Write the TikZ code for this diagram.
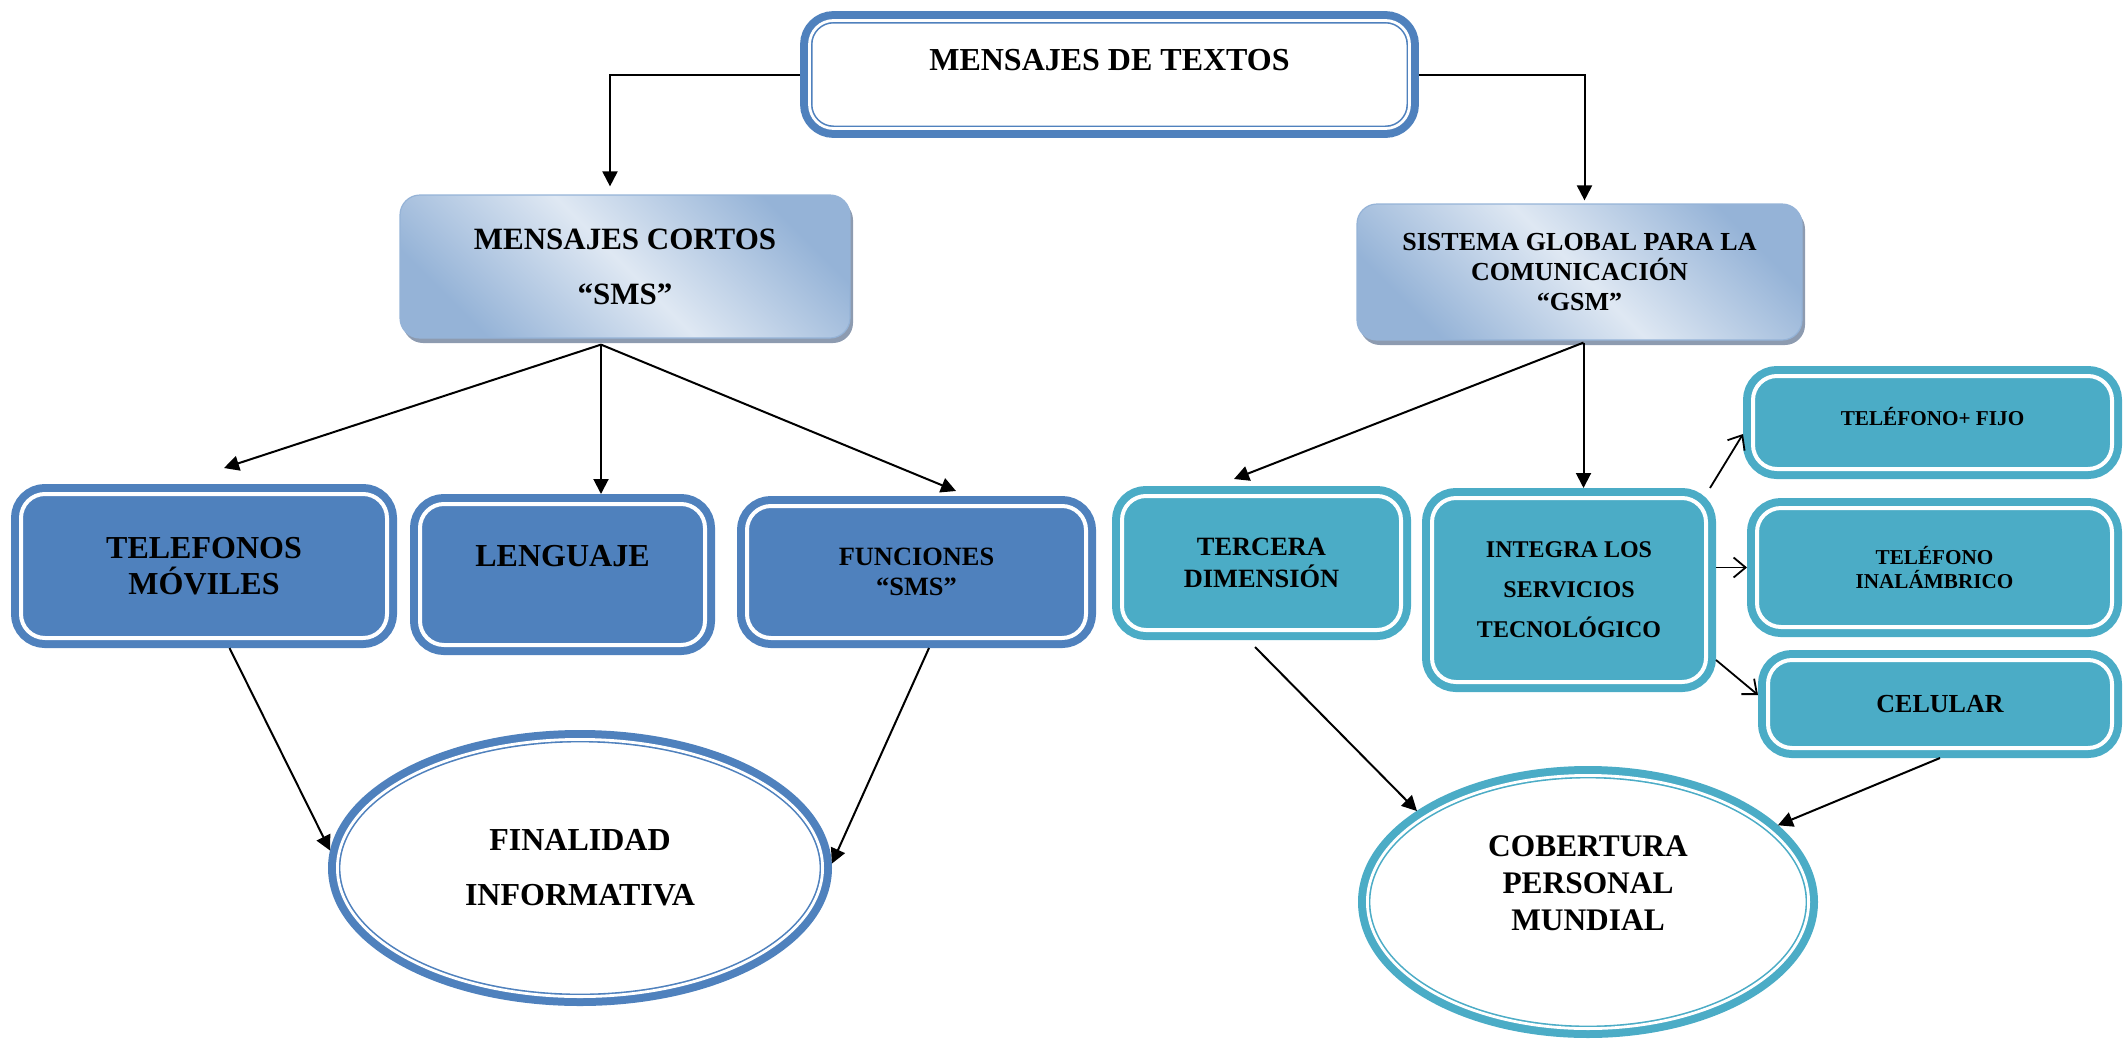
\documentclass[tikz,border=0pt]{standalone}
\usepackage{fontspec}
\setmainfont{Liberation Serif}
\usetikzlibrary{arrows.meta, positioning, shapes.geometric, calc, shadows}
\definecolor{cblue}{HTML}{4F81BD}
\definecolor{cteal}{HTML}{4BACC6}
\definecolor{clight}{HTML}{DFE8F3}
\definecolor{cdark}{HTML}{95B3D7}
\definecolor{cshadow}{HTML}{8D9BB0}
\newcommand{\boxfont}[2]{\fontsize{#1}{#2}\selectfont\bfseries}
\tikzset{
  framed/.style={draw=#1, fill=#1, double=white, double distance=2pt, line width=4pt,
    rounded corners=12pt, outer sep=5pt, inner sep=0pt, align=center},
  ringed/.style={preaction={draw=#1, line width=9.4pt}, draw=#1, double=white,
    double distance=1.4pt, line width=0.8pt, fill=white, outer sep=4.7pt, inner sep=0pt, align=center},
  shaded/.style={draw=cdark, line width=0.6pt, rounded corners=10pt,
    top color=cdark, bottom color=cdark, middle color=clight, shading angle=-45,
    drop shadow={shadow xshift=1.5pt, shadow yshift=-2.5pt, fill=cshadow, opacity=1},
    inner sep=0pt, align=center},
  arrow/.style={-{Triangle[length=7.5pt, width=7.5pt]}, line width=1pt},
  barb/.style={-{Straight Barb[length=6pt, width=10pt]}, line width=0.9pt},
}

\begin{document}
\begin{tikzpicture}[x=0.5pt, y=-0.5pt]
  \useasboundingbox (0,0) rectangle (2127,1039);
  % title
  \node[ringed=cblue, rounded corners=12pt, minimum width=300pt, minimum height=54pt,
    font=\boxfont{16}{19}, text height=11pt, text depth=15pt] (textos) at (1109.5,74.5) {MENSAJES DE TEXTOS};
  % second level
  \node[shaded, minimum width=225pt, minimum height=71.5pt, font=\boxfont{15.5}{18}] (cortos) at (625,266.5)
    {MENSAJES CORTOS\\[9.5pt]“SMS”};
  \node[shaded, minimum width=222.5pt, minimum height=68pt, font=\boxfont{13}{15}] (gsm) at (1579.5,272)
    {SISTEMA GLOBAL PARA LA\\COMUNICACIÓN\\“GSM”};
  % left branch
  \node[framed=cblue, minimum width=183pt, minimum height=72pt, font=\boxfont{16}{18}] (tel) at (204,566)
    {TELEFONOS\\MÓVILES};
  \node[framed=cblue, minimum width=142.5pt, minimum height=70.5pt, font=\boxfont{16}{19},
    text height=11pt, text depth=18.9pt] (leng) at (562.5,574.5) {LENGUAJE};
  \node[framed=cblue, minimum width=169.5pt, minimum height=66pt, font=\boxfont{13.2}{15}] (fun) at (916.5,572)
    {FUNCIONES\\“SMS”};
  \node[ringed=cblue, ellipse, minimum width=242.6pt, minimum height=128.6pt, font=\boxfont{16}{18}] (fin) at (580,868)
    {FINALIDAD\\[9.5pt]INFORMATIVA};
  % right branch
  \node[framed=cteal, minimum width=139.5pt, minimum height=67pt, font=\boxfont{13.2}{16}] (ter) at (1261.5,563)
    {TERCERA\\DIMENSIÓN};
  \node[framed=cteal, minimum width=137pt, minimum height=92pt, font=\boxfont{12}{20}] (integ) at (1569,590)
    {INTEGRA LOS\\SERVICIOS\\TECNOLÓGICO};
  \node[framed=cteal, minimum width=179.5pt, minimum height=46.5pt, font=\boxfont{10.6}{12},
    text height=8pt, text depth=5.5pt] (fijo) at (1932.5,422.5) {TELÉFONO+ FIJO};
  \node[framed=cteal, minimum width=177.5pt, minimum height=59.5pt, font=\boxfont{10.6}{11.7}] (inal) at (1934.5,567.5)
    {TELÉFONO\\INALÁMBRICO};
  \node[framed=cteal, minimum width=172pt, minimum height=44pt, font=\boxfont{13}{15}] (cel) at (1940,704)
    {CELULAR};
  \node[ringed=cteal, ellipse, minimum width=220.6pt, minimum height=126.6pt, font=\boxfont{15.7}{18.5}] (cob) at (1588,902)
    {COBERTURA\\PERSONAL\\MUNDIAL\\\mbox{}};
  % connectors
  \draw[arrow] (textos.west) -| ([xshift=-7.5pt, yshift=4pt]cortos.north);
  \draw[arrow] (textos.east) -| ([xshift=2.5pt, yshift=1.5pt]gsm.north);
  \coordinate (cs) at ([xshift=-12pt, yshift=-3pt]cortos.south);
  \draw[arrow] (cs) -- ([xshift=10pt, yshift=8pt]tel.north);
  \draw[arrow] (cs) -- (cs |- leng.north);
  \draw[arrow] (cs) -- ([xshift=19.75pt, yshift=2.5pt]fun.north);
  \coordinate (gs) at ([xshift=2pt, yshift=-1pt]gsm.south);
  \draw[arrow] (gs) -- ([xshift=-13.75pt, yshift=3.5pt]ter.north);
  \draw[arrow] (gs) -- (gs |- integ.north);
  \draw[barb] ([xshift=-3pt]integ.north east) -- ([yshift=-5.75pt]fijo.west);
  \draw[barb] (integ.east |- inal.west) -- (inal.west);
  \draw[barb] ([yshift=-35pt]integ.east) -- ([yshift=4.5pt]cel.west);
  \draw[arrow] ([xshift=12.75pt]tel.south) -- (fin.176);
  \draw[arrow] ([xshift=6.25pt]fun.south) -- (fin.1);
  \draw[arrow] ([xshift=-3.25pt, yshift=-3.5pt]ter.south) -- (cob.152);
  \draw[arrow] (cel.south) -- (cob.22);
\end{tikzpicture}
\end{document}
